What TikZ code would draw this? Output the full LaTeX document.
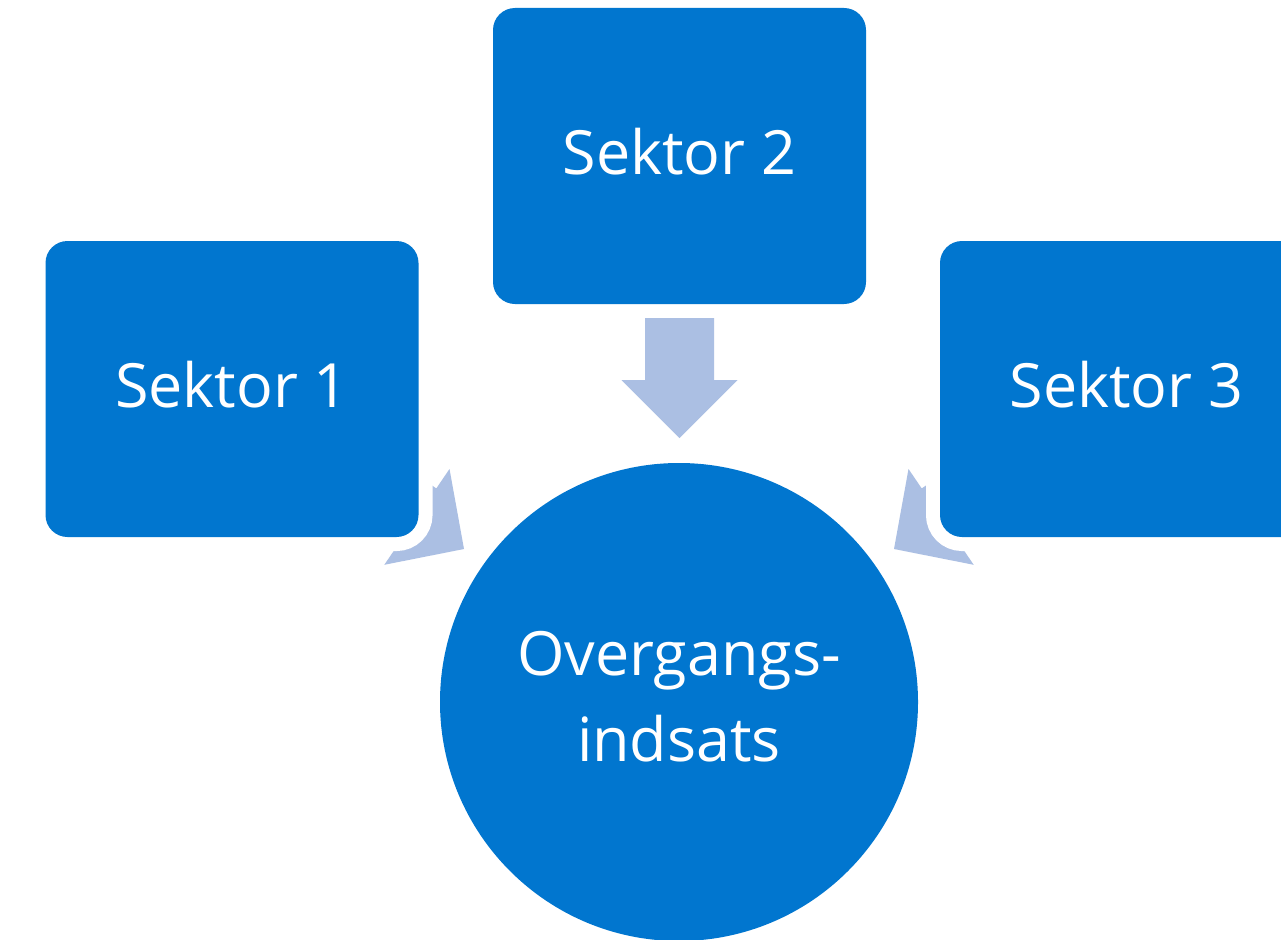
\documentclass[tikz,border=0pt]{standalone}
\usepackage{fontspec}
\setmainfont{Open Sans}
\usetikzlibrary{calc}
\definecolor{boxblue}{RGB}{1,118,207}
\definecolor{arrowblue}{RGB}{171,191,227}
\tikzset{
  sbox/.style={rectangle, rounded corners=22pt, fill=boxblue, minimum width=373pt, minimum height=296pt,
    inner sep=0pt, preaction={draw=white, line width=28pt}},
  hub/.style={circle, fill=boxblue, minimum size=478pt, inner sep=0pt},
  lbl/.style={text=white, inner sep=0pt, align=center, font=\fontsize{61}{86}\selectfont},
  barrow/.style={fill=arrowblue, draw=none}
}
\begin{document}
\begin{tikzpicture}[x=1pt,y=-1pt]
\clip (0,0) rectangle (1281,939);
\fill[white] (0,0) rectangle (1281,939);
% hub
\node[hub] (hub) at (679,702) {};
\node[lbl] (hubt) at ($(hub.center)+(0,-5)$) {Overgangs-\\indsats};
% diagonal arrows (drawn before the boxes, whose white halo hides their tails)
\coordinate (t1) at (464,549);
\coordinate (t3) at (894,549);
\fill[barrow] (378.4,449.0) -- (436.3,488.4) -- (449.5,469.0) -- (t1) -- (384.3,564.8) -- (397.5,545.4) -- (339.6,506.0) -- cycle;
\fill[barrow] (979.6,449.0) -- (921.7,488.4) -- (908.5,469.0) -- (t3) -- (973.7,564.8) -- (960.5,545.4) -- (1018.4,506.0) -- cycle;
% boxes
\node[sbox] (s1) at (232,389) {};
\node[sbox] (s2) at (679.5,156) {};
\node[sbox] (s3) at (1126.5,389) {};
\node[lbl] (s1t) at ($(s1.center)+(0,-4)$) {Sektor 1};
\node[lbl] (s2t) at ($(s2.center)+(0,-4)$) {Sektor 2};
\node[lbl] (s3t) at ($(s3.center)+(0,-4)$) {Sektor 3};
% down arrow from s2 to hub
\fill[barrow] ($(s2.south)+(-34.5,14)$) -- ($(s2.south)+(34.5,14)$) -- ($(s2.south)+(34.5,76)$)
  -- ($(s2.south)+(58,76)$) -- ($(s2.south)+(0,134)$) -- ($(s2.south)+(-58,76)$)
  -- ($(s2.south)+(-34.5,76)$) -- cycle;
\end{tikzpicture}
\end{document}
